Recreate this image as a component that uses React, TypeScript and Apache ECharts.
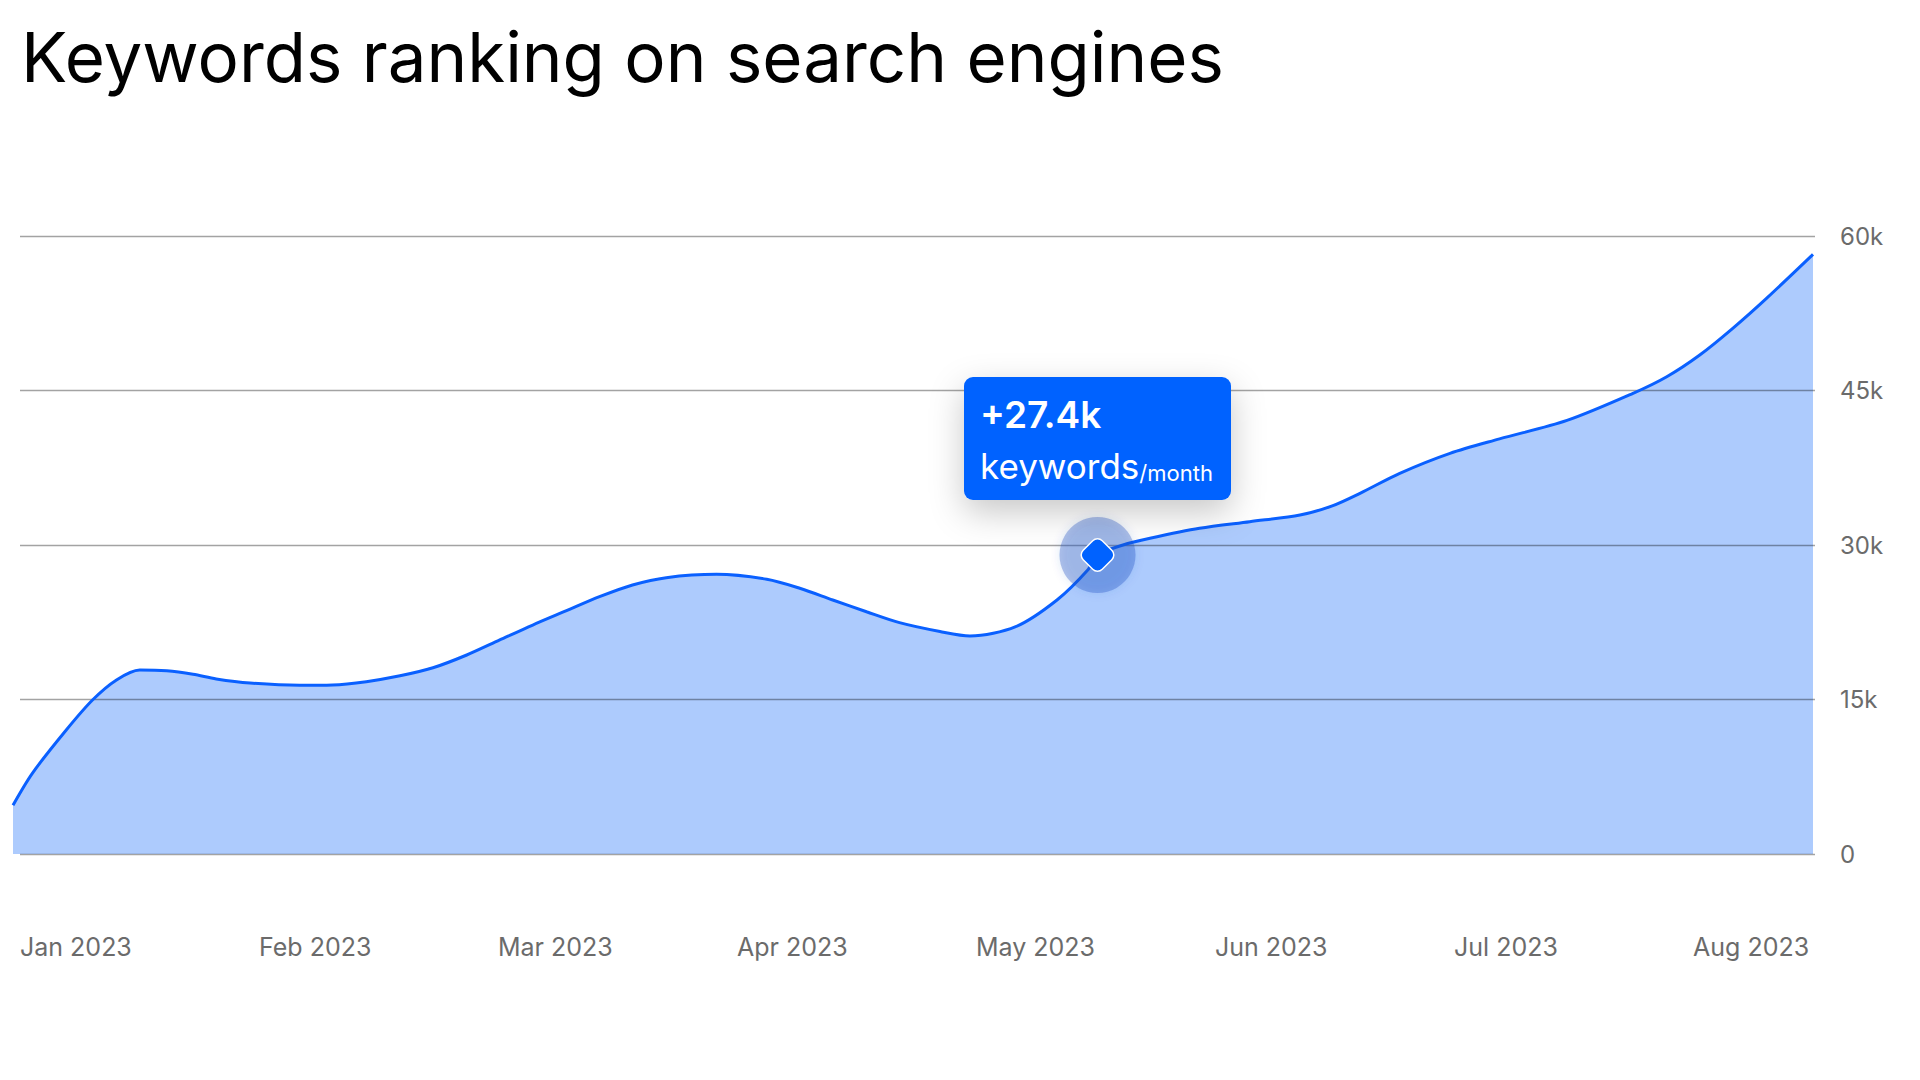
import React, { useEffect, useRef } from "react";
import * as echarts from "echarts";

const chartTitle = "Keywords ranking on search engines";
const monthLabels = ["Jan 2023", "Feb 2023", "Mar 2023", "Apr 2023", "May 2023", "Jun 2023", "Jul 2023", "Aug 2023"];
const yMin = 0;
const yMax = 60000;
const yInterval = 15000;

// x position along the period (days from start), keyword count
const dayPositions = [0, 2.6, 7.1, 10.6, 13.8, 16.9, 20.5, 24.0, 27.1, 31.6, 38.2, 42.6, 47.1, 51.6, 56.0, 60.5, 64.9, 69.3, 73.8, 78.2, 82.6, 87.1, 93.8, 100.5, 104.9, 109.3, 113.8, 118.2, 123.6, 127.6, 133.7, 139.2, 143.3, 144.6, 148.0, 151.6, 158.2, 164.9, 171.6, 175.9, 179.6, 184.9, 191.6, 198.2, 207.2, 216.0, 220.5, 224.9, 229.3, 233.8, 240];
const keywordCounts = [4740, 7860, 12040, 14950, 16900, 17860, 17780, 17450, 17000, 16600, 16380, 16410, 16730, 17300, 18080, 19320, 20780, 22230, 23620, 24980, 26120, 26830, 27150, 26670, 25800, 24660, 23520, 22460, 21600, 21170, 22070, 24660, 27570, 29030, 30000, 30650, 31620, 32260, 32910, 33800, 35020, 36960, 38900, 40300, 42100, 44730, 46340, 48450, 51040, 53950, 58220];
const highlightDay = 144.6;
const highlightValue = 29030;
const highlightChange = "+27.4k";
const highlightUnit = "keywords";
const highlightPeriod = "/month";

const FONT = "Inter";

export default function App() {
  const ref = useRef<HTMLDivElement>(null);
  useEffect(() => {
    if (!ref.current) return;
    const chart = echarts.init(ref.current, undefined, { renderer: "svg" });
    const data = dayPositions.map((d, i) => [d, keywordCounts[i]]);
    const common = { top: 236, bottom: 226 };
    chart.setOption({
      animation: false,
      backgroundColor: "#ffffff",
      title: {
        text: chartTitle,
        left: 21,
        top: 22,
        padding: 0,
        textStyle: { fontFamily: FONT, fontSize: 69, fontWeight: 400, color: "#000000" },
      },
      grid: [
        { left: 13, right: 107, ...common },
        { left: 20, right: 105, ...common },
        { left: 20, right: 227, ...common },
      ],
      xAxis: [
        { gridIndex: 0, type: "value", min: 0, max: 240, show: false },
        { gridIndex: 1, type: "value", min: 0, max: 1, show: false },
        {
          gridIndex: 2,
          type: "category",
          data: monthLabels,
          boundaryGap: false,
          axisLine: { show: false },
          axisTick: { show: false },
          splitLine: { show: false },
          axisLabel: {
            align: "left",
            margin: 80,
            interval: 0,
            fontFamily: FONT,
            fontSize: 25,
            color: "#6b6b6b",
          },
        },
      ],
      yAxis: [
        { gridIndex: 0, type: "value", min: yMin, max: yMax, show: false },
        {
          gridIndex: 1,
          type: "value",
          position: "right",
          min: yMin,
          max: yMax,
          interval: yInterval,
          z: 3,
          axisLine: { show: false },
          axisTick: { show: false },
          splitLine: { show: true, lineStyle: { color: "rgba(0,0,0,0.36)", width: 1.3 } },
          axisLabel: {
            margin: 25,
            fontFamily: FONT,
            fontSize: 24,
            color: "#6b6b6b",
            formatter: (v: number) => (v === 0 ? "0" : v / 1000 + "k"),
          },
        },
        { gridIndex: 2, type: "value", min: 0, max: 1, show: false },
      ],
      series: [
        {
          type: "line",
          xAxisIndex: 0,
          yAxisIndex: 0,
          data,
          smooth: 0.3,
          showSymbol: false,
          z: 1,
          lineStyle: { width: 0 },
          areaStyle: { color: "#adcbfd", opacity: 1 },
        },
        {
          type: "line",
          xAxisIndex: 0,
          yAxisIndex: 0,
          data,
          smooth: 0.3,
          showSymbol: false,
          z: 4,
          lineStyle: { width: 3, color: "#0a60ff" },
          markPoint: {
            z: 6,
            data: [
              {
                coord: [highlightDay, highlightValue],
                symbol: "circle",
                symbolSize: 76,
                itemStyle: {
                  color: "rgba(30,80,195,0.33)",
                  shadowBlur: 10,
                  shadowColor: "rgba(30,80,195,0.4)",
                },
                label: {
                  show: true,
                  position: "top",
                  distance: 17,
                  formatter: `{a|${highlightChange}}\n{b|${highlightUnit}}{c|${highlightPeriod}}`,
                  backgroundColor: "#0062ff",
                  borderRadius: 9,
                  width: 235,
                  padding: [12, 16, 16, 16],
                  shadowBlur: 34,
                  shadowOffsetY: 12,
                  shadowColor: "rgba(0,0,0,0.22)",
                  align: "center",
                  rich: {
                    a: { fontFamily: FONT, fontSize: 37, fontWeight: 600, color: "#ffffff", lineHeight: 52, align: "left" },
                    b: { fontFamily: FONT, fontSize: 35, fontWeight: 400, color: "#ffffff", lineHeight: 43, verticalAlign: "bottom", align: "left" },
                    c: { fontFamily: FONT, fontSize: 22, fontWeight: 400, color: "#ffffff", lineHeight: 43, verticalAlign: "bottom", align: "left" },
                  },
                },
              },
              {
                coord: [highlightDay, highlightValue],
                symbol: "roundRect",
                symbolSize: 27,
                symbolRotate: 45,
                itemStyle: { color: "#0062ff", borderColor: "#ffffff", borderWidth: 1.5 },
                label: { show: false },
              },
            ],
          },
        },
      ],
    });
    return () => chart.dispose();
  }, []);
  return (
    <div
      ref={ref}
      style={{ position: "fixed", left: 0, top: 0, width: 1920, height: 1080, background: "#fff" }}
    />
  );
}
